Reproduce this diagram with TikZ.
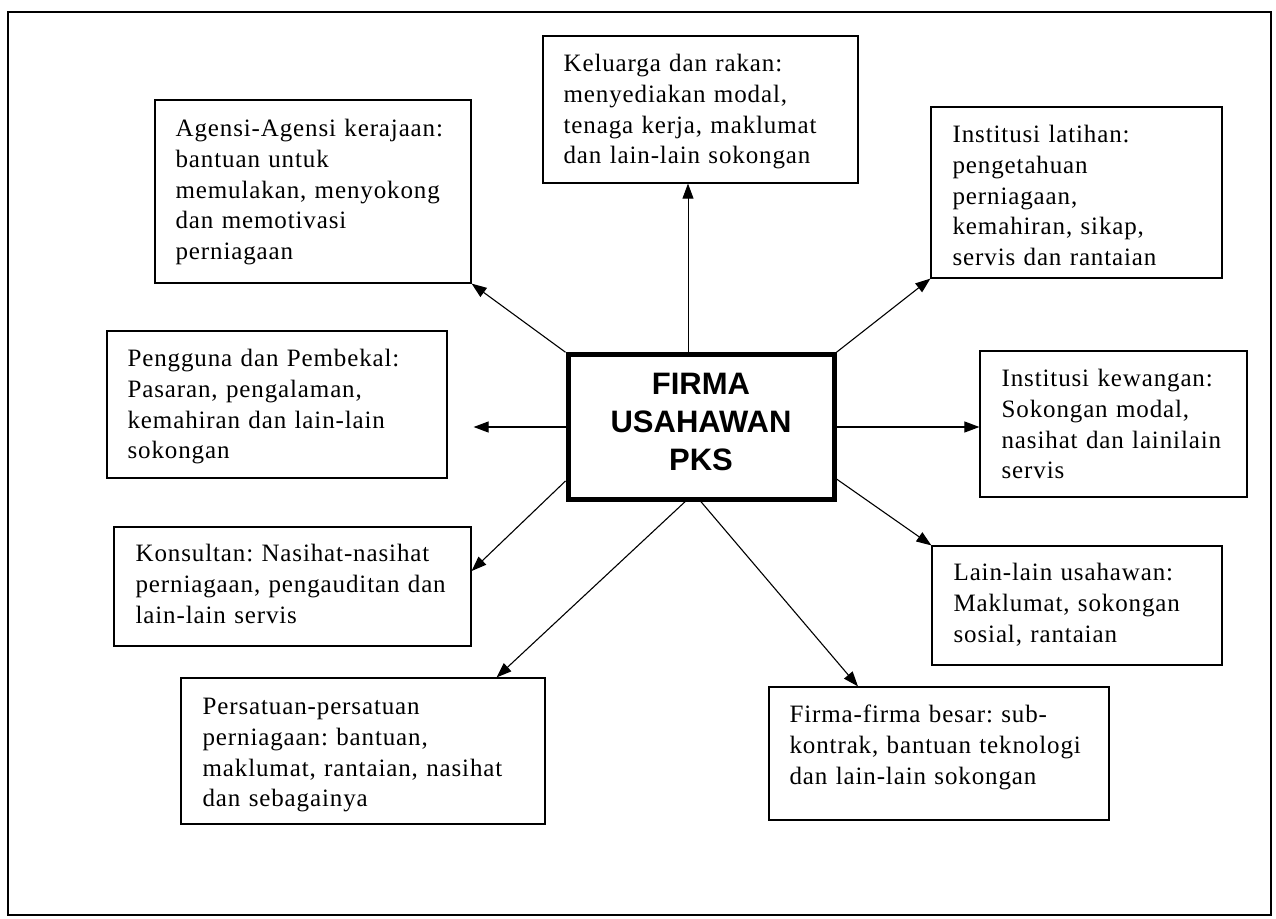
\documentclass[tikz,border=0pt]{standalone}
\usepackage{fontspec}
\setmainfont{Liberation Serif}
\newfontfamily\boxfont[LetterSpace=3.5]{Liberation Serif}
\newfontfamily\hubfont{Liberation Sans}
\usetikzlibrary{arrows.meta,fit}

\tikzset{
  frame/.style={draw=black, line width=1.4pt},
  box/.style={draw=black, line width=1.2pt, inner sep=0pt, rectangle},
  boxtext/.style={anchor=base west, inner sep=0pt, align=left,
    text width=#1, font=\boxfont\fontsize{25}{30.8}\selectfont\frenchspacing},
  hub/.style={draw=black, line width=5pt, rectangle,
    minimum width=266pt, minimum height=144.5pt, inner sep=0pt},
  hubtext/.style={align=center, inner sep=0pt,
    font=\hubfont\bfseries\fontsize{31}{37.8}\selectfont},
  link/.style={draw=black, line width=1.1pt,
    -{Triangle[length=15pt,width=11pt]}},
}

\begin{document}
\begin{tikzpicture}[x=1pt, y=-1pt]
  \useasboundingbox (0,0) rectangle (1276,918);
  \draw[frame] (8,12) rectangle (1271,915);

  % central firm
  \node[hub] (hub) at (701,427) {};
  \node[hubtext] (hub-t) at (701,422) {FIRMA\\USAHAWAN\\PKS};

  % surrounding support boxes
  \node[box, fit={(543,36) (858,183)}] (keluarga) {};
  \node[boxtext=295pt] (keluarga-t) at ([shift={(21pt,-36pt)}]keluarga.north west)
    {Keluarga dan rakan:\\ menyediakan modal,\\ tenaga kerja, maklumat\\ dan lain-lain sokongan};

  \node[box, fit={(155,100) (471,283)}] (agensi) {};
  \node[boxtext=295pt] (agensi-t) at ([shift={(21pt,-37pt)}]agensi.north west)
    {Agensi-Agensi kerajaan:\\ bantuan untuk\\ memulakan, menyokong\\ dan memotivasi\\ perniagaan};

  \node[box, fit={(931,107) (1222,278)}] (latihan) {};
  \node[boxtext=270pt] (latihan-t) at ([shift={(22pt,-36pt)}]latihan.north west)
    {Institusi latihan:\\ pengetahuan\\ perniagaan,\\ kemahiran, sikap,\\ servis dan rantaian};

  \node[box, fit={(107,331) (447,478)}] (pengguna) {};
  \node[boxtext=320pt] (pengguna-t) at ([shift={(21pt,-36pt)}]pengguna.north west)
    {Pengguna dan Pembekal:\\ Pasaran, pengalaman,\\ kemahiran dan lain-lain\\ sokongan};

  \node[box, fit={(980,351) (1247,497)}] (kewangan) {};
  \node[boxtext=245pt] (kewangan-t) at ([shift={(22pt,-36pt)}]kewangan.north west)
    {Institusi kewangan:\\ Sokongan modal,\\ nasihat dan lainilain\\ servis};

  \node[box, fit={(114,527) (471,646)}] (konsultan) {};
  \node[boxtext=340pt] (konsultan-t) at ([shift={(22pt,-35pt)}]konsultan.north west)
    {Konsultan: Nasihat-nasihat\\ perniagaan, pengauditan dan\\ lain-lain servis};

  \node[box, fit={(932,546) (1222,665)}] (lainlain) {};
  \node[boxtext=270pt] (lainlain-t) at ([shift={(22pt,-35pt)}]lainlain.north west)
    {Lain-lain usahawan:\\ Maklumat, sokongan\\ sosial, rantaian};

  \node[box, fit={(181,678) (545,824)}] (persatuan) {};
  \node[boxtext=345pt] (persatuan-t) at ([shift={(22pt,-37pt)}]persatuan.north west)
    {Persatuan-persatuan\\ perniagaan: bantuan,\\ maklumat, rantaian, nasihat\\ dan sebagainya};

  \node[box, fit={(769,687) (1109,820)}] (firma) {};
  \node[boxtext=320pt] (firma-t) at ([shift={(21pt,-36pt)}]firma.north west)
    {Firma-firma besar: sub-\\ kontrak, bantuan teknologi\\ dan lain-lain sokongan};

  % connectors from the firm outwards
  \draw[link] (hub.north west) -- (agensi.south east);
  \draw[link, line width=0.8pt] ([xshift=-13pt]hub.north) -- ([xshift=-13pt]hub.north |- keluarga.south);
  \draw[link] (hub.north east) -- (latihan.south west);
  \draw[link, shorten >=26pt] (hub.west) -- (hub.west -| pengguna.east);
  \draw[link] (hub.east) -- (hub.east -| kewangan.west);
  \draw[link] ([yshift=-54pt]hub.west) -- ([yshift=15.5pt]konsultan.east);
  \draw[link] ([yshift=-52pt]hub.east) -- (lainlain.north west);
  \draw[link] ([xshift=-16pt]hub.south) -- ([xshift=-49pt]persatuan.north east);
  \draw[link] (hub.south) -- ([xshift=-81pt]firma.north);
\end{tikzpicture}
\end{document}
